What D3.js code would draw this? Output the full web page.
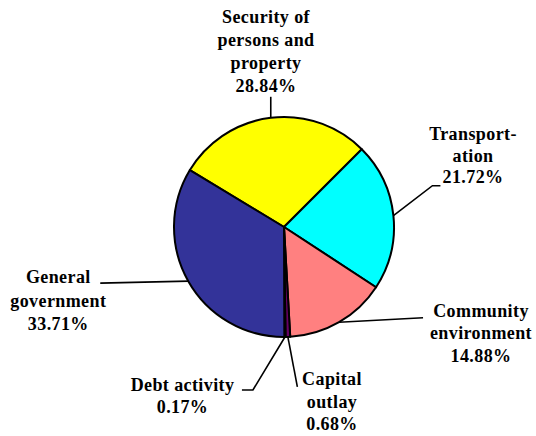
<!DOCTYPE html>
<html><head><meta charset="utf-8">
<script src="https://cdn.jsdelivr.net/npm/d3@7"></script>
</head><body style="margin:0">
<svg id="chart" width="536" height="436"></svg>
<script>
const categories = ["Security of persons and property", "Transportation", "Community environment", "Capital outlay", "Debt activity", "General government"];
const values = [28.84, 21.72, 14.88, 0.68, 0.17, 33.71];
const labelLines = [["Security of", "persons and", "property", "28.84%"], ["Transport-", "ation", "21.72%"], ["Community", "environment", "14.88%"], ["Capital", "outlay", "0.68%"], ["Debt activity", "0.17%"], ["General", "government", "33.71%"]];
const colors = ["#FFFF00", "#00FFFF", "#FF8080", "#660066", "#000080", "#333399"];

// layout
const cx = 284, cy = 227, r = 110;
const labelPos = [
  {x: 266, y: 23, lh: 23, line: [[0, -21]]},
  {x: 473, y: 140, lh: 21.7, line: [[39, -30], [47, -30]]},
  {x: 481, y: 316.7, lh: 22.5, line: [[84, -4.5]]},
  {x: 332, y: 385, lh: 22.5, line: [[9.5, 50]]},
  {x: 182.5, y: 391, lh: 22, line: [[-32, 53], [-43, 53]]},
  {x: 58.3, y: 283, lh: 23.5, line: [[-88, 2]]}
];

const svg = d3.select("#chart");
const g = svg.append("g").attr("transform", `translate(${cx},${cy})`);
const total = d3.sum(values);
const startAngle = (45 - values[0] / total * 360) * Math.PI / 180;
const pie = d3.pie().sort(null).startAngle(startAngle).endAngle(startAngle + 2 * Math.PI);
const arcs = pie(values);
const arc = d3.arc().innerRadius(0).outerRadius(r);

g.selectAll("path.slice").data(arcs).enter().append("path")
  .attr("class", "slice")
  .attr("d", arc)
  .attr("fill", (d, i) => colors[i])
  .attr("stroke", "#000")
  .attr("stroke-width", 2)
  .attr("stroke-linejoin", "round");

// leader lines
arcs.forEach((d, i) => {
  const a = (d.startAngle + d.endAngle) / 2;
  const px = cx + r * Math.sin(a), py = cy - r * Math.cos(a);
  const pts = [[px, py]].concat(labelPos[i].line.map(p => [px + p[0], py + p[1]]));
  svg.append("path")
    .attr("d", d3.line()(pts))
    .attr("fill", "none")
    .attr("stroke", "#000")
    .attr("stroke-width", 1.6);
});

// labels (centred manually)
labelLines.forEach((lines, i) => {
  const p = labelPos[i];
  lines.forEach((ln, j) => {
    const t = svg.append("text")
      .attr("x", p.x).attr("y", p.y + j * p.lh)
      .style("font-family", "'Liberation Serif', 'Times New Roman', serif")
      .style("font-weight", "bold")
      .style("font-size", "18px")
      .style("letter-spacing", "0.4px")
      .text(ln);
    const w = t.node().getComputedTextLength();
    t.attr("x", p.x - w / 2);
  });
});
</script>
</body></html>
